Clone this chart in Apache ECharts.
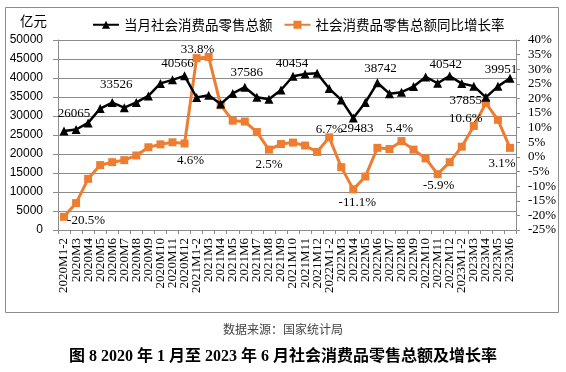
<!DOCTYPE html>
<html><head><meta charset="utf-8">
<script src="https://cdn.jsdelivr.net/npm/echarts@6/dist/echarts.min.js"></script>
<style>html,body{margin:0;padding:0;background:#fff}#c{width:566px;height:372px}</style>
</head><body><div id="c"></div>
<script>
const categories = ['2020M1-2','2020M3','2020M4','2020M5','2020M6','2020M7','2020M8','2020M9','2020M10','2020M11','2020M12',
'2021M1-2','2021M3','2021M4','2021M5','2021M6','2021M7','2021M8','2021M9','2021M10','2021M11','2021M12',
'2022M1-2','2022M3','2022M4','2022M5','2022M6','2022M7','2022M8','2022M9','2022M10','2022M11','2022M12',
'2023M1-2','2023M3','2023M4','2023M5','2023M6'];
const retailSales = [26065,26450,28178,31973,33526,32203,33571,35295,38576,39514,40566,
34869,35484,33153,35945,37586,34925,34395,36833,40454,41043,41269,
37213,34233,29483,33547,38742,35870,36258,37745,40271,38615,40542,
38534,37855,34910,37803,39951];
const growthRate = [-20.5,-15.8,-7.5,-2.8,-1.8,-1.1,0.5,3.3,4.3,5.0,4.6,
33.8,34.2,17.7,12.4,12.1,8.5,2.5,4.4,4.9,3.9,1.7,
6.7,-3.5,-11.1,-6.7,3.1,2.7,5.4,2.5,-0.5,-5.9,-1.8,
3.5,10.6,18.4,12.7,3.1];
const leftTicks = [0, 50000, 5000];
const rightTicks = [-25, 40, 5];
const labeledSales = [0,4,10,15,19,24,26,32,34,37];
const labeledGrowth = [0,10,11,17,22,24,28,31,34,37];

// label placement (style, kept apart from data)
const salesOffsets = {0:[10,-17],4:[4,-18],10:[-7,-12],15:[2,-15],19:[-1,-13],24:[4,11],26:[3,-14],32:[-4,-11],34:[-8,14],37:[-9,-9]};
const growthOffsets = {0:[22,4],10:[6,17],11:[1,-9],17:[0,15],22:[0,-8],24:[4,13],28:[-2,-13],31:[1,11],34:[-8,-7],37:[-8,16]};

const labelFont = {fontFamily:'Liberation Serif', fontSize:13, color:'#000'};
function build(vals, labeled, offs, fmt){
  return vals.map((v,i)=>{
    if(labeled.indexOf(i)<0) return v;
    return {value:v, label:Object.assign({show:true, position:'inside', align:'center', verticalAlign:'middle',
      offset:offs[i], formatter:fmt(v)}, labelFont)};
  });
}
const chart = echarts.init(document.getElementById('c'), null, {renderer:'canvas'});
const gray = '#8c8c8c';
chart.setOption({
  animation:false,
  backgroundColor:'#fff',
  grid:{left:58, right:50, top:40, bottom:142, containLabel:false},
  legend:{left:92, top:18, padding:0, itemWidth:26, itemHeight:10, itemGap:11,
    textStyle:{fontFamily:'Noto Sans CJK SC', fontSize:13.5, color:'#000'},
    data:['当月社会消费品零售总额','社会消费品零售总额同比增长率']},
  xAxis:{type:'category', data:categories, boundaryGap:true,
    axisLine:{lineStyle:{color:gray}},
    axisTick:{show:true, length:4, lineStyle:{color:gray}},
    axisLabel:{interval:0, rotate:90, margin:8, fontFamily:'Liberation Serif', fontSize:13, color:'#000'}},
  yAxis:[
    {type:'value', min:leftTicks[0], max:leftTicks[1], interval:leftTicks[2],
     axisLine:{show:true, lineStyle:{color:gray}},
     axisTick:{show:true, length:5, lineStyle:{color:gray}},
     splitLine:{show:true, lineStyle:{color:gray, width:1}},
     axisLabel:{margin:15, fontFamily:'Liberation Sans', fontSize:12, color:'#000', formatter:v=>String(v)}},
    {type:'value', min:rightTicks[0], max:rightTicks[1], interval:rightTicks[2], position:'right',
     axisLine:{show:true, lineStyle:{color:gray}},
     axisTick:{show:true, length:4, lineStyle:{color:gray}},
     splitLine:{show:false},
     axisLabel:{margin:12, fontFamily:'Liberation Serif', fontSize:13, color:'#000', formatter:'{value}%'}}
  ],
  graphic:[
    {type:'rect', shape:{x:5.5, y:7.5, width:553, height:305}, style:{fill:'none', stroke:'#8c8c8c', lineWidth:1}, silent:true, z:-1},
    {type:'text', left:20, top:14, style:{text:'亿元', font:'13.5px "Noto Sans CJK SC"', fill:'#000'}},
    {type:'text', left:'center', top:323, style:{text:'数据来源：国家统计局', font:'12px "Noto Sans CJK SC"', fill:'#444', letterSpacing:3}},
    {type:'text', left:'center', top:349, style:{text:'图 8 2020 年 1 月至 2023 年 6 月社会消费品零售总额及增长率', font:'bold 16px "Liberation Serif", "Noto Sans CJK SC"', fill:'#000'}}
  ],
  series:[
    {name:'当月社会消费品零售总额', type:'line', yAxisIndex:0, data:build(retailSales, labeledSales, salesOffsets, v=>String(v)),
     symbol:'triangle', symbolSize:9, lineStyle:{color:'#000', width:2.5}, itemStyle:{color:'#000'}, z:3},
    {name:'社会消费品零售总额同比增长率', type:'line', yAxisIndex:1, data:build(growthRate, labeledGrowth, growthOffsets, v=>v.toFixed(1)+'%'),
     symbol:'rect', symbolSize:8, lineStyle:{color:'#ED7D31', width:3}, itemStyle:{color:'#ED7D31'}, z:2}
  ]
});
</script></body></html>
